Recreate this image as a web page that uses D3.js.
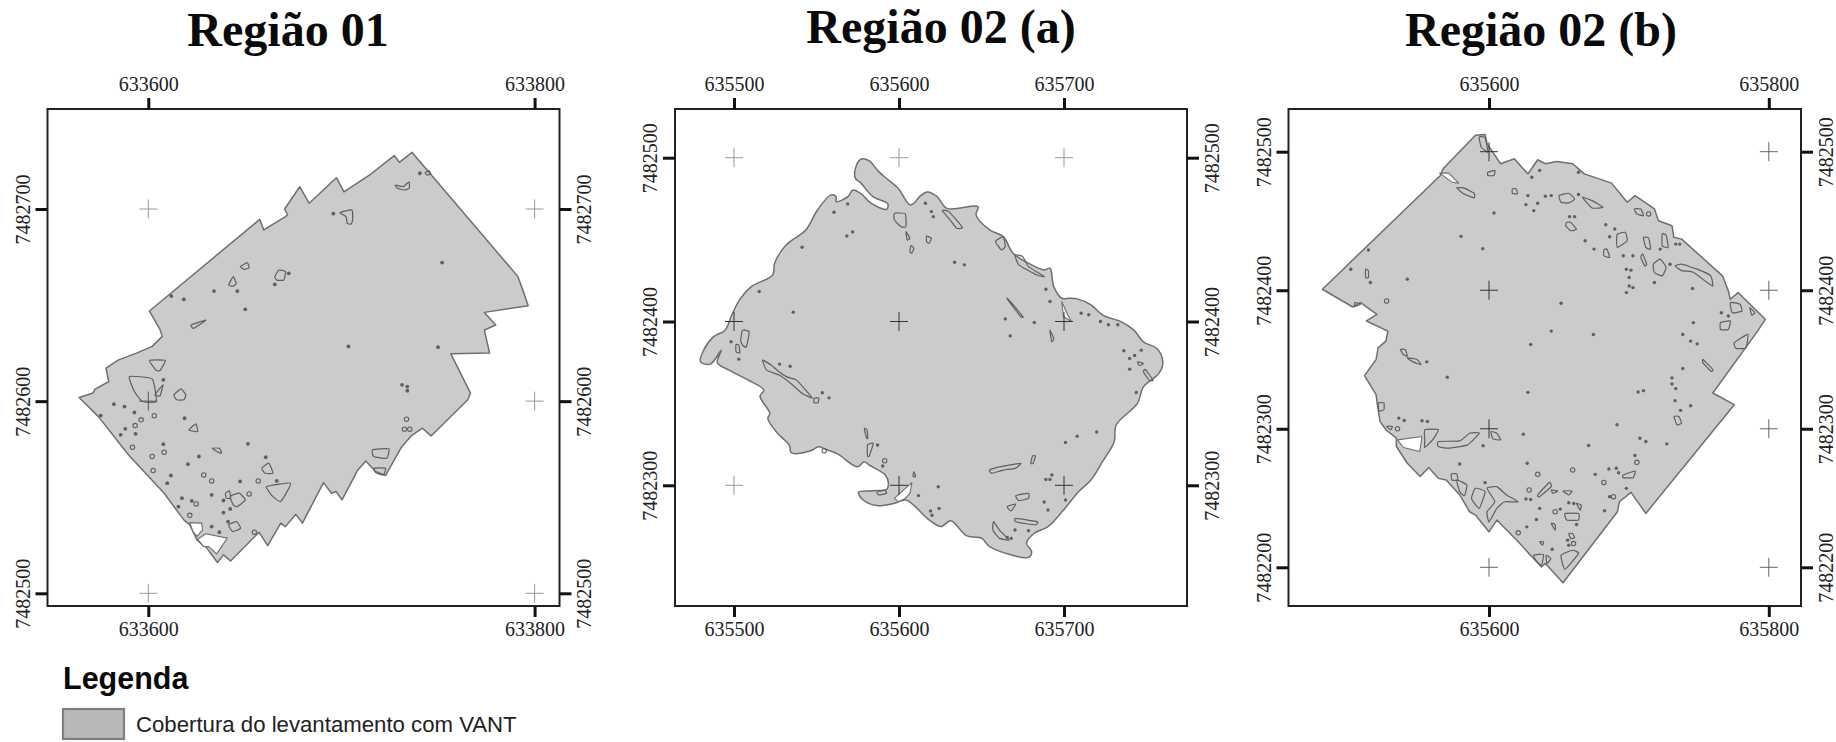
<!DOCTYPE html>
<html>
<head>
<meta charset="utf-8">
<script src="https://cdnjs.cloudflare.com/ajax/libs/d3/7.8.5/d3.min.js"></script>
<style>
  html, body { margin: 0; background: #fff; }
  svg { display: block; }
  .tick text { font-family: "Liberation Serif", serif; font-size: 20px; fill: #222; }
  .tick line { stroke: #111; stroke-width: 3px; }
</style>
</head>
<body>
<svg id="chart" width="1836" height="742"></svg>
<script>
// all survey shapes are in metres from the grid crossing in rN_origin (easting, northing)

// Regiao 01
var r1_title = "Região 01";
var r1_origin = [633600, 7482600];
var r1_xticks = [633600, 633800];
var r1_yticks = [7482500, 7482600, 7482700];
var r1_outline = [[.6,46.9],[57.7,94.6],[59.8,89.1],[71,96],[72.1,96.9],[70.6,100],[78.4,111.6],[83.3,103],[97.4,116.3],[101.3,108.9],[114.6,117.7],[127.3,127.8],[130,124.3],[136.5,129.5],[191.4,64.8],[193.9,57.8],[196.7,49.7],[174,46.2],[179.9,39.6],[174,37],[176.7,25],[156.6,24.7],[166.8,4.2],[165.4,.7],[146.4,-18.1],[141.9,-14.1],[136.1,-18.1],[131,-24],[122.8,-38.7],[117.7,-36.6],[112.6,-31.1],[108.5,-35.8],[100.3,-51.4],[97.2,-47],[94.8,-47.9],[90.7,-42.4],[79.8,-63.5],[76.4,-58.9],[71,-65.3],[68.6,-63.5],[61.8,-75.2],[57.3,-68.2],[42.6,-83.2],[38.9,-80],[35.8,-84],[29.7,-75.7],[28.7,-75.3],[25.2,-72.2],[21.5,-64.4],[18.4,-61.8],[13.3,-54.9],[8.2,-47.9],[-10.2,-28],[-25.6,-8.3],[-35.8,1.9],[-28.7,4.2],[-27.6,6.2],[-20.5,10.2],[-21.9,17.2],[-15.4,21.5],[-6.1,25],[2,28.5],[7.2,33.7],[6.1,37.2]];
var r1_holes = [
  [[21.5,-63.2],[27.6,-63.5],[28.1,-67],[25.2,-70.4],[23.1,-67.8]],
  [[25.6,-71.9],[29.7,-69],[40.9,-71.3],[35.4,-79.5],[31.3,-75.7],[28.7,-75.7]]
];
var r1_patches = [
  [[127.9,112.5],[132,111.6],[135,114.2],[135.1,110.8],[132.4,109.9],[129,110.8]],
  [[99.3,98.1],[105.4,99.5],[105.8,94.3],[105,92.2],[103,92.5],[102.4,96]],
  [[143.3,118.9],[145.3,120],[146.3,118.2],[144.3,117.7]],
  [[47.7,70],[51.2,72.1],[52.2,69.4],[49.7,68.6]],
  [[41.6,60.4],[44,64.8],[45.5,61.3],[44,59.9]],
  [[65.5,64.8],[67.6,68.2],[71,67.4],[70.2,63],[66.5,63]],
  [[22.1,39.6],[29.7,42.2],[27.6,40.5],[23.5,37.9]],
  [[-9.8,12.8],[2,11.5],[4.1,-.2],[-3.1,-.2],[-7.2,5]],
  [[.6,21.2],[8.8,21.2],[6.1,16],[4.1,16]],
  [[3.5,3.3],[7.6,8.5],[6.1,2.8],[4.7,2.8]],
  [[13.3,3.3],[17,6.4],[19.4,3.3],[18.4,.7],[14.7,.7]],
  [[21.1,-14.9],[24.6,-11.8],[25.6,-15.8],[22.5,-15.5]],
  [[33.2,-24.5],[36.9,-24.5],[37.9,-27.1],[35.4,-26.2]],
  [[116.1,-25.3],[124.5,-24.8],[123.4,-29.7],[116.7,-28.8]],
  [[116.7,-34.9],[122.8,-34.9],[121.7,-38.4],[117.7,-37.2]],
  [[42.4,-49.6],[47.1,-47.9],[50.2,-51.4],[46.1,-54.9],[44,-54]],
  [[40,-47.9],[42,-46.7],[42.6,-50.5],[40.3,-50.5]],
  [[41.6,-64.4],[45.7,-62.7],[47.8,-66.1],[43.7,-67.9]],
  [[61.4,-44.4],[73.7,-42.7],[68.6,-52.2],[64.5,-49.6],[62.4,-47]],
  [[58.8,-34.9],[62.4,-32.3],[64.5,-37.5],[60.4,-37.5]]
];
var r1_rings = [[-3.7,-9.7],[3.1,-7.6],[-6.8,-12.7],[2,-28.8],[-8.2,-24],[2.5,-36.1],[8.2,-26.6],[32.8,-41.5],[28.7,-38.4],[132.6,-14.6],[135.4,-14.6],[133.7,-9.4],[54.9,-68.2],[21.5,-59.4],[24.8,-53.5],[56.9,-41.5],[52.2,-48.3]];
var r1_dots = [[152.1,72.1],[95.8,97.6],[140.6,118.6],[72.7,66.5],[65.5,60.8],[46.1,57.3],[34,57.3],[18.4,53],[11.9,54.7],[50.2,47.8],[-24.6,-7.5],[-17.8,-1.6],[-12.3,-2.8],[-7.2,-5.9],[-11.9,-14.4],[-14.3,-17.5],[-6.6,-17],[7.8,11.1],[18.8,-8.9],[7.8,-22.4],[51.6,-22.2],[26.2,-28.8],[20.5,-32.8],[11.7,-38.7],[9.8,-42.7],[32.8,-48.8],[47.5,-41.8],[38.9,-51.7],[38.9,-58],[42.4,-56.1],[17.4,-50.5],[15.6,-54.9],[22.5,-51.9],[32.8,-65.3],[36.8,-68.2],[41.3,-62.7],[60.8,-29.2],[66.5,-41.5],[131.4,8.5],[134.1,5.4],[134.1,7.6],[103.6,28.5],[150,28.1]];

// Regiao 02 (a)
var r2_title = "Região 02 (a)";
var r2_origin = [635600, 7482400];
var r2_xticks = [635500, 635600, 635700];
var r2_yticks = [7482300, 7482400, 7482500];
var r2_outline = [[-22.9,99.2],[-18.2,98.2],[-12.3,91.5],[-6.4,86.4],[-.5,81.3],[6.6,71.2],[9,72.2],[12.5,76.2],[17.2,79.1],[23.1,76.2],[29,69.1],[47.9,70.1],[46.7,65.1],[54.9,55.9],[63.2,51.8],[69.1,41.7],[78.5,35.6],[88,31.5],[91.5,32.5],[93.8,21.3],[98.6,14.2],[103.3,14.2],[108,13.8],[116.3,10.2],[123.3,4.1],[135.1,-.4],[142.2,-5.1],[148.1,-12.4],[156.3,-16.5],[159.9,-24.6],[157.5,-31.7],[148.1,-39.9],[144.5,-50],[131.6,-63.2],[130.4,-73.4],[123.3,-85.6],[116.3,-96.8],[109.2,-103.5],[99.7,-115.1],[90.3,-125.2],[82,-129.3],[77.3,-135.4],[80.4,-140.5],[78.5,-144],[54.9,-137.4],[50.2,-132.4],[40.8,-130.7],[31.4,-121.6],[25.5,-125.2],[18.4,-121.2],[4.2,-109],[-2.8,-111],[-13.4,-112.4],[-21.7,-109],[-24.5,-104.3],[-15.8,-103.3],[-7.5,-102.5],[-6.4,-98.8],[-8.3,-93.7],[-18.2,-87.6],[-21,-85.6],[-25.2,-88.7],[-37,-81],[-44.1,-78.1],[-48.8,-76.5],[-53.5,-78.9],[-65.3,-80.1],[-66.5,-75.4],[-73.6,-68.3],[-79.5,-59.2],[-78.3,-56.1],[-84.2,-45.6],[-81.9,-41.9],[-91.3,-35.8],[-103,-29.7],[-110.1,-25.2],[-107.7,-17.5],[-114.3,-26],[-120.3,-24.6],[-118.4,-17.5],[-112.5,-9.4],[-105.4,-5.3],[-101.3,4.1],[-96.6,13.2],[-89.5,21.3],[-76.5,28.5],[-75.4,35.6],[-68.3,46.8],[-56.5,55.9],[-49.4,68.1],[-41.2,77.3],[-38.1,76.2],[-38.1,73.2],[-31,76.2],[-27.9,80.3],[-22.9,77.9],[-17,72.2],[-7.5,68.5],[-6.8,71.8],[-15.8,76.2],[-23.3,84.8],[-26.4,87.4],[-26.4,93.5]];
var r2_holes = [
  [[98.6,12.2],[102.2,4.1],[104.5,0],[99.7,3]],
  [[-.5,-105.9],[7.8,-98.4],[6.6,-104.9],[3.8,-108],[-.5,-110],[-2.8,-108]]
];
var r2_patches = [
  [[-2.8,66.1],[3.8,65.7],[4.2,57.9],[1.2,57.9],[-2.8,62]],
  [[4.2,54.9],[6.6,50.8],[5,49.8]],
  [[16.7,52.2],[19.6,50.8],[18.4,47.8],[16.7,48.8]],
  [[7.3,46.4],[9,44.7],[7.8,41.7],[6.6,42.7]],
  [[26.2,67.7],[30.2,67.1],[38.4,57.5],[34.9,56.9],[30.2,63]],
  [[58.5,48.8],[63.2,51.8],[64.4,45.7],[62,43.7]],
  [[70.3,40.7],[75,39.6],[78.5,33.5],[88,27.4],[83.2,28.5],[72.6,34.6]],
  [[65.6,14.2],[75,3],[73.8,3],[66.7,12.2]],
  [[-94.8,-5.3],[-90.8,-6.3],[-92.5,-15.5],[-94.8,-14.5],[-96,-11.4]],
  [[-98.8,-14],[-97.1,-14.5],[-96.4,-19.1],[-98.8,-18.5]],
  [[-82.7,-23.6],[-77.5,-26.6],[-73.9,-29.7],[-68,-33.8],[-62.1,-35.8],[-52.7,-46.6],[-58.6,-43.9],[-65.6,-37.8],[-72.7,-32.7],[-80.2,-29.7]],
  [[-51.5,-47],[-48.6,-46.6],[-49.1,-49.6],[-51.5,-49.6]],
  [[-19.1,-75.4],[-15.6,-74.4],[-18,-82.1],[-19.1,-82.1]],
  [[54.9,-90.7],[60.9,-88.7],[73.8,-86.6],[70.3,-89.7],[63.2,-90.7],[56.1,-92.7]],
  [[70.8,-106.3],[78.5,-104.9],[78.5,-107.9],[72.6,-109.4]],
  [[65.6,-113],[70.7,-111.4],[67.9,-115.7]],
  [[70.7,-120.2],[83.7,-122.2],[82.6,-124.2],[70.7,-122.2]],
  [[57.3,-122.2],[60.9,-127.3],[66.7,-133.4],[60.9,-132.4],[56.9,-127.3]],
  [[80.9,-82.1],[82.7,-82.1],[81.3,-86.6],[79.9,-86.6]],
  [[-13.4,-104.3],[-8.7,-102.9],[-7.5,-104.9],[-12.3,-105.9]],
  [[149.3,-29.3],[154,-35.8],[151.6,-35.8],[148.1,-30.7]],
  [[144.5,-24.6],[148.1,-25.6],[145.7,-27]],
  [[91.5,-5.3],[93.8,-10.4],[92.7,-12.4],[92,-9.4]],
  [[-21,-65.3],[-19.3,-66.3],[-18.9,-71.4],[-19.8,-70.8]],
  [[9,-91.7],[10.1,-94.7],[8.5,-94.7]]
];
var r2_rings = [[-8.7,-85],[-45.3,-78.9]];
var r2_dots = [[-31.1,71.8],[-39.4,66.7],[16,72.2],[19.6,67.1],[20.8,64],[-28.1,54.7],[-31.6,52.2],[-58.7,45.3],[33.7,36.2],[39.6,34.6],[-84.7,18.3],[-64.1,5.7],[91.5,12.2],[89,19.7],[110.4,5.1],[115,4.1],[82,-.6],[64.4,1.6],[122.1,0],[126.9,-2],[132.6,-2],[-97.1,-23],[-101.8,-12.4],[-46.5,-43.5],[-42.4,-46.6],[-66,-27.3],[-72.4,-26],[-13,-75.4],[-9.9,-88.2],[11.8,-106.3],[23.8,-100.9],[24.3,-114.1],[19.1,-115.7],[20,-118.3],[119.8,-67.5],[108,-70],[100.9,-73.8],[67.4,-8.8],[91.5,-96.4],[89,-96.4],[92.7,-93.7],[100.9,-109],[88,-110.2],[90.3,-115.1],[70.3,-127.3],[78.5,-127.7],[65.6,-131.8],[68,-132.4],[136.3,-17.9],[139.8,-22.6],[142.8,-20.8],[146.8,-17.5],[139.8,-29.1],[143.8,-43.3]];

// Regiao 02 (b)
var r3_title = "Região 02 (b)";
var r3_origin = [635600, 7482400];
var r3_xticks = [635600, 635800];
var r3_yticks = [7482200, 7482300, 7482400, 7482500];
var r3_outline = [[-9.7,111.8],[-2.8,112.5],[-1.4,105.8],[8.3,91.3],[18.1,94.9],[27.8,84],[34.8,94.2],[40.3,91.3],[48.7,93],[59.8,91.3],[68.2,84],[87.6,77.3],[98.8,63.5],[104.4,68.3],[118.3,58.7],[121.1,50.2],[130.8,46.6],[132.1,38.2],[137.7,36.9],[166.9,10.4],[171.1,-.5],[172.5,-6.5],[178,-1.7],[197.5,-21],[192,-29.5],[160,-74.2],[175.3,-82.6],[112.1,-161.1],[101.5,-145.9],[93.2,-152.7],[91.8,-159.9],[52.9,-211.1],[40.3,-197.3],[37.5,-199.8],[20.9,-181.6],[5.6,-165.9],[0,-174.4],[-9.7,-162.3],[-13.9,-159.9],[-20.9,-147.8],[-30.6,-137],[-36.2,-135.8],[-43.1,-128],[-49.2,-134.5],[-58.4,-124.9],[-66.2,-112.8],[-66.2,-106.8],[-73.7,-100.7],[-77.9,-94.7],[-79.8,-82.6],[-80.7,-75.4],[-89,-61.6],[-80.7,-50],[-79.3,-41.6],[-73.7,-36.7],[-72.3,-29.5],[-87.6,-22.2],[-80.1,-17.4],[-91.8,-8.9],[-97.4,-12.1],[-119.1,.7],[-102.9,16.4],[-99.3,20],[-34.8,82.8],[-32.8,87.7]];
var r3_holes = [
  [[-35.3,84.5],[-28.7,84.5],[-21.7,77.3],[-26.4,78]],
  [[-65.4,-108],[-47.9,-105.6],[-49.5,-116.4],[-61.2,-113.5]]
];
var r3_patches = [
  [[-23.1,73.9],[-18.1,73.9],[-10.6,70],[-10.6,66.7],[-18.1,69.6]],
  [[-7,110.6],[-2.8,110.1],[-.8,99.7],[-5.6,103.4]],
  [[-.8,85.2],[4.2,86.5],[3.6,82.8],[-.8,82.8]],
  [[16.7,73.2],[19.5,73.2],[20.3,69.6],[16.7,70]],
  [[50.1,68.3],[57,70],[61.2,65.9],[57,63],[51.5,63.5]],
  [[66.8,67.1],[73.7,64.7],[81.5,59.9],[73.7,59.4]],
  [[103.8,58.7],[108.5,58.7],[110.4,53.9],[105.7,55.1]],
  [[55.6,49],[58.4,49],[62.6,44],[58.4,43],[54.8,46.6]],
  [[91.8,40.6],[97.4,41.8],[98.8,35.7],[91.8,30.9],[91.2,35.7]],
  [[82.1,29],[84.3,29.7],[86.2,23.7],[82.1,24.9]],
  [[110.4,38.2],[114.1,37.7],[115.5,29.7],[112.1,30.9]],
  [[123.8,40.6],[126.6,39.8],[128,30.9],[123.8,32.1]],
  [[117.4,18.8],[122.4,22.5],[126.6,16.4],[123.8,10.4],[118.2,12.8]],
  [[133,17.6],[137.7,18.8],[148.8,15.2],[158.5,10.4],[160,3.1],[155.8,5.6],[146.1,13],[137.7,14.2]],
  [[172.5,-8.9],[179.4,-10.1],[180.8,-15],[173.9,-16.2]],
  [[165.5,-23.4],[172.5,-22.2],[171.1,-28.3],[165.5,-28.3]],
  [[186.4,-12.6],[190,-16.2],[187.8,-17.9]],
  [[109.9,26.1],[112.7,18.8],[111.3,17.6],[108.5,23.7]],
  [[-88.2,15.2],[-86.2,14],[-86.2,9.2],[-88.2,9.2]],
  [[-95.9,-8.9],[-91.8,-10.1],[-95.9,-11.8]],
  [[-63.4,-42.8],[-59.8,-42.8],[-58.4,-47.6],[-61.2,-46.4]],
  [[-58.4,-48.8],[-51.5,-50],[-48.7,-53.7],[-54.3,-51.7]],
  [[-79,-81.4],[-75.1,-81.4],[-75.1,-86.3],[-78.7,-87]],
  [[-73.2,-98.3],[-69,-98.3],[-70.4,-100.7]],
  [[-45.9,-100.7],[-36.2,-100.7],[-40.3,-108],[-45.9,-113.5],[-45.9,-108]],
  [[-36.2,-109.2],[-20.9,-108.7],[-13.9,-103.2],[-7,-103.2],[-15.3,-111.6],[-29.2,-114],[-36.2,-112.8]],
  [[1.4,-102],[5.6,-103.2],[8.3,-108],[2.8,-107.3]],
  [[-27,-132.6],[-23.1,-132.6],[-22.3,-137],[-26.4,-137]],
  [[-23.1,-137],[-15.9,-140.6],[-17.5,-148.3],[-20.9,-145.4]],
  [[-9.7,-143],[-2.8,-145.4],[-7,-157.5],[-12.5,-150.3]],
  [[-1.4,-143],[5.6,-141.8],[12.5,-147.8],[20.9,-152.7],[11.1,-152.7],[5.6,-157.5],[0,-167.2],[-1.4,-159.9],[4.2,-152.7]],
  [[34.8,-147.8],[43.1,-138.7],[44.5,-141.8],[36.2,-149]],
  [[44.5,-144.2],[49.2,-144.9],[45.9,-146.6]],
  [[52.9,-144.9],[59.3,-144.9],[57,-147.8]],
  [[54.3,-161.1],[64,-161.1],[64,-165.9],[55.6,-165.9]],
  [[62.6,-153.9],[65.9,-155.1],[65.3,-158.7]],
  [[44.5,-168.4],[47.3,-169.1],[47.3,-173.2]],
  [[57,-175.6],[59.8,-175.6],[61.2,-178.7],[58.4,-179.2]],
  [[51.5,-191.3],[59.8,-187.7],[64,-190.1],[54.3,-201.4]],
  [[32,-191.3],[38.9,-190.8],[37.5,-198.5],[33.4,-194.9]],
  [[40.9,-191.3],[44.2,-193.7],[41.4,-197.3]],
  [[36.2,-181.6],[39,-181.6],[38.2,-184]],
  [[95.9,-133.4],[104.4,-130.5],[103,-135.3],[95.9,-135.3]],
  [[132.3,-91.1],[135.7,-91.1],[137.6,-95.9],[134.3,-97.1]],
  [[153,-50],[160,-57.3],[158.6,-58.5],[153,-52.4]],
  [[175.3,-38],[185,-31.9],[183.6,-41.6],[176.6,-42]]
];
var r3_rings = [[114.1,55.1],[-73.2,-7.7],[-65.4,-100],[59.8,-129.7],[82.1,-138.7],[28.7,-144.2],[34.8,-132.9],[47.3,-159.9],[20.9,-175.1],[60.4,-182.9],[89,-149],[105.7,-124.2]];
var r3_dots = [[-20,38.9],[-4.5,29.9],[3.6,55.8],[-86.2,29],[-84.8,5.6],[-58.4,8],[51.5,-9.4],[145.5,1.2],[98.2,-1.7],[100.2,9.2],[100.2,3.1],[98.2,15.2],[101.5,14.5],[118.2,5.6],[102.9,1.9],[171.1,-18.6],[166.1,-16.2],[146.1,-23.4],[129.4,18.8],[122.4,29.7],[75.1,29.7],[68.7,35.7],[86.2,38.6],[89.9,44.2],[83.5,47.3],[64,85.2],[36.2,86.5],[30.6,81.6],[27.8,68.3],[40.3,67.9],[44.5,68.3],[64,69.1],[34.8,62.8],[26.4,61.8],[32,57.5],[57.6,53.1],[61.2,53.1],[96,24.9],[102.9,24.9],[133.5,33.3],[136.3,33.3],[-98.8,15.2],[-29.8,-62.8],[-44.5,-51.7],[-64.5,-92.3],[-60.6,-94],[-47.9,-94.2],[-44,-94.7],[-4.2,-112.3],[-20.9,-125.4],[24.5,-103.9],[27.8,-73.7],[29.8,-39.2],[44.5,-29.5],[74.6,-31.9],[106.6,-73.5],[110.4,-72.5],[138.5,-31.9],[144.1,-36.7],[148.8,-38.7],[138.5,-56.5],[130.8,-63.3],[130.8,-67.7],[133.5,-71],[133,-79.7],[136.9,-86.7],[144.1,-83.4],[91.5,-97.1],[107.9,-106.8],[112.1,-109.2],[127.1,-110.9],[71.2,-112.1],[104.3,-119.3],[27.3,-124.9],[75.9,-132.9],[85.7,-129],[91,-128.5],[92.6,-131.7],[98.2,-143],[86.2,-149],[26.4,-150.7],[29.8,-151],[36.2,-157.5],[33.9,-165.5],[27,-170.8],[50.9,-158],[82.6,-159.2],[62.6,-169.1],[56.2,-180.4],[57,-184],[45.1,-187],[57,-153.4],[60.6,-153.9],[-2.8,-138.9]];

var legend_title = "Legenda";
var legend_label = "Cobertura do levantamento com VANT";

var panels = [
  { title: r1_title, origin: r1_origin, xticks: r1_xticks, yticks: r1_yticks, outline: r1_outline, holes: r1_holes, patches: r1_patches, rings: r1_rings, dots: r1_dots,
    box: [47.5, 559.5], xrange: [148.3, 534.6], yrange: [593.3, 209], titlex: 288, titley: 46, smooth: false, dot: 1.9, light: '#999', dark: '#555' },
  { title: r2_title, origin: r2_origin, xticks: r2_xticks, yticks: r2_yticks, outline: r2_outline, holes: r2_holes, patches: r2_patches, rings: r2_rings, dots: r2_dots,
    box: [675, 1187], xrange: [734, 1064], yrange: [485.3, 157.7], titlex: 941, titley: 43, smooth: true, dot: 1.7, light: '#999', dark: '#333' },
  { title: r3_title, origin: r3_origin, xticks: r3_xticks, yticks: r3_yticks, outline: r3_outline, holes: r3_holes, patches: r3_patches, rings: r3_rings, dots: r3_dots,
    box: [1288.5, 1801], xrange: [1489, 1768.8], yrange: [567.3, 151.7], titlex: 1541, titley: 46, smooth: false, dot: 1.7, light: '#666', dark: '#333' }
];

var svg = d3.select('#chart');
var top_y = 109, bottom_y = 606;

panels.forEach(function(p) {
  var x = d3.scaleLinear().domain(d3.extent(p.xticks)).range(p.xrange);
  var y = d3.scaleLinear().domain(d3.extent(p.yticks)).range(p.yrange);
  function px(d) { return [x(p.origin[0] + d[0]), y(p.origin[1] + d[1])]; }

  var g = svg.append('g');

  g.append('text')
    .attr('x', p.titlex).attr('y', p.titley)
    .attr('text-anchor', 'middle')
    .style('font-family', '"Liberation Serif", serif')
    .style('font-weight', 'bold')
    .style('font-size', '48px')
    .style('fill', '#0a0a0a')
    .text(p.title);

  var sharp = d3.line().curve(d3.curveLinearClosed);
  var soft = d3.line().curve(d3.curveCatmullRomClosed.alpha(0.5));
  var tight = d3.line().curve(d3.curveCardinalClosed.tension(0.55));

  g.append('path')
    .attr('d', (p.smooth ? soft : sharp)(p.outline.map(px)))
    .attr('fill', '#cbcbcb')
    .attr('stroke', '#6f6f6f')
    .attr('stroke-width', 1.5)
    .attr('stroke-linejoin', 'round');

  g.selectAll('.hole').data(p.holes).enter().append('path')
    .attr('d', function(d) { return sharp(d.map(px)); })
    .attr('fill', '#fff')
    .attr('stroke', '#6f6f6f')
    .attr('stroke-width', 1.1)
    .attr('stroke-linejoin', 'round');

  g.selectAll('.patch').data(p.patches).enter().append('path')
    .attr('d', function(d) { return tight(d.map(px)); })
    .attr('fill', 'none')
    .attr('stroke', '#5f5f5f')
    .attr('stroke-width', 1.2);

  g.selectAll('.ring').data(p.rings).enter().append('circle')
    .attr('cx', function(d) { return px(d)[0]; })
    .attr('cy', function(d) { return px(d)[1]; })
    .attr('r', 2.2)
    .attr('fill', 'none')
    .attr('stroke', '#5f5f5f')
    .attr('stroke-width', 1.1);

  g.selectAll('.dot').data(p.dots).enter().append('circle')
    .attr('cx', function(d) { return px(d)[0]; })
    .attr('cy', function(d) { return px(d)[1]; })
    .attr('r', p.dot)
    .attr('fill', '#5f5f5f');

  // grid crosses, darker where they sit on the surveyed area
  var crosses = d3.cross(p.xticks, p.yticks);
  var ring = p.outline.map(function(d) { return [p.origin[0] + d[0], p.origin[1] + d[1]]; });
  crosses.forEach(function(c) {
    var col = d3.polygonContains(ring, c) ? p.dark : p.light;
    var cx = x(c[0]), cy = y(c[1]);
    g.append('line').attr('x1', cx - 9).attr('x2', cx + 9).attr('y1', cy).attr('y2', cy).attr('stroke', col);
    g.append('line').attr('x1', cx).attr('x2', cx).attr('y1', cy - 9.5).attr('y2', cy + 9.5).attr('stroke', col);
  });

  g.append('rect')
    .attr('x', p.box[0]).attr('y', top_y)
    .attr('width', p.box[1] - p.box[0]).attr('height', bottom_y - top_y)
    .attr('fill', 'none').attr('stroke', '#222').attr('stroke-width', 2);

  var fmt = d3.format('d');
  var topAxis = d3.axisTop(x).tickValues(p.xticks).tickFormat(fmt).tickSize(11).tickPadding(7);
  var botAxis = d3.axisBottom(x).tickValues(p.xticks).tickFormat(fmt).tickSize(11).tickPadding(4.5);
  var leftAxis = d3.axisLeft(y).tickValues(p.yticks).tickFormat(fmt).tickSize(12);
  var rightAxis = d3.axisRight(y).tickValues(p.yticks).tickFormat(fmt).tickSize(12);

  g.append('g').attr('transform', 'translate(0,' + top_y + ')').call(topAxis).call(function(s) { s.select('.domain').remove(); });
  g.append('g').attr('transform', 'translate(0,' + bottom_y + ')').call(botAxis).call(function(s) { s.select('.domain').remove(); });

  // y labels read bottom to top on both sides
  g.append('g').attr('transform', 'translate(' + p.box[0] + ',0)').call(leftAxis)
    .call(function(s) {
      s.select('.domain').remove();
      s.selectAll('text').attr('transform', 'rotate(-90)').attr('text-anchor', 'middle').attr('x', 0).attr('y', -18).attr('dy', 0);
    });
  g.append('g').attr('transform', 'translate(' + p.box[1] + ',0)').call(rightAxis)
    .call(function(s) {
      s.select('.domain').remove();
      s.selectAll('text').attr('transform', 'rotate(-90)').attr('text-anchor', 'middle').attr('x', 0).attr('y', 31.5).attr('dy', 0);
    });
});

svg.append('text')
  .attr('x', 63).attr('y', 689)
  .style('font-family', '"Liberation Sans", sans-serif')
  .style('font-weight', 'bold')
  .style('font-size', '30.5px')
  .style('fill', '#0a0a0a')
  .text(legend_title);

svg.append('rect')
  .attr('x', 63).attr('y', 709).attr('width', 61).attr('height', 30)
  .attr('fill', '#b8b8b8').attr('stroke', '#7f7f7f').attr('stroke-width', 2.2);

svg.append('text')
  .attr('x', 136).attr('y', 732)
  .style('font-family', '"Liberation Sans", sans-serif')
  .style('font-size', '22.2px')
  .style('fill', '#222')
  .text(legend_label);
</script>
</body>
</html>
